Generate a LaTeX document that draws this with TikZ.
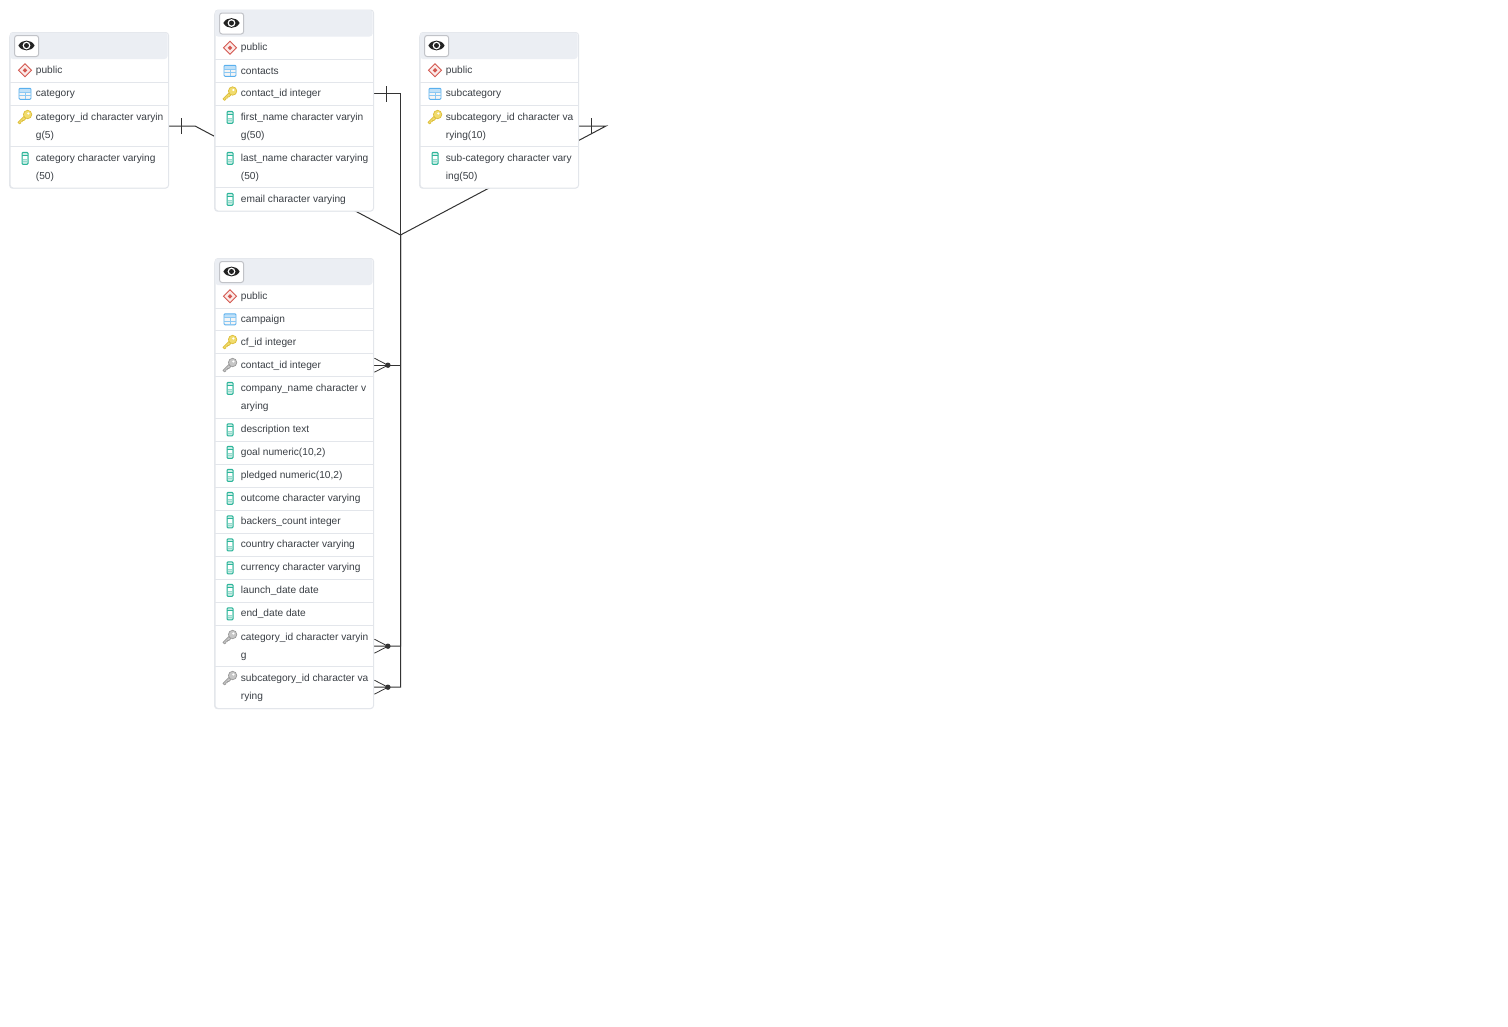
\documentclass[tikz,border=0pt]{standalone}
\usepackage{fontspec}
\setmainfont{Liberation Sans}
\usetikzlibrary{shapes.geometric}
\definecolor{tline}{HTML}{333333}
\definecolor{tborder}{HTML}{E3E6EB}
\definecolor{tshadow}{HTML}{E6E8EC}
\definecolor{thead}{HTML}{EBEEF3}
\definecolor{ttext}{HTML}{3A3F45}
\definecolor{ired}{HTML}{D4574F}
\definecolor{ipale}{HTML}{FBEAE8}
\definecolor{iblue}{HTML}{5AB0EE}
\definecolor{ibluepale}{HTML}{BFE0F8}
\definecolor{igold}{HTML}{F1DC6E}
\definecolor{igoldd}{HTML}{DDBE3A}
\definecolor{igray}{HTML}{C6C6C6}
\definecolor{igrayd}{HTML}{9A9A9A}
\definecolor{iteal}{HTML}{2DB59A}
\definecolor{itealp}{HTML}{C9EDE5}
\definecolor{ieye}{HTML}{222222}
\pgfdeclarelayer{bg}
\pgfsetlayers{bg,main}
\tikzset{
  conn/.style={draw=tline,line width=1pt},
  tablebox/.style={draw=tborder,fill=white,rounded corners=3pt,line width=1pt,inner sep=0pt,anchor=north west},
  rowbox/.style={inner sep=0pt,minimum width=159pt,anchor=north west},
  rowtext/.style={inner sep=0pt,anchor=west,align=left,text=ttext,font=\fontsize{10.15}{18}\selectfont},
  sepline/.style={draw=tborder,line width=1pt},
  eyebtn/.style={draw=tborder!85!black,fill=white,rounded corners=2.5pt,line width=1pt,inner sep=0pt,minimum width=24pt,minimum height=21pt},
  schemaicon/.pic={
    \draw[ired,fill=ipale,line width=.9pt] (-6.5,0)--(0,-6.5)--(6.5,0)--(0,6.5)--cycle;
    \fill[ired] (-2.3,0)--(0,-2.3)--(2.3,0)--(0,2.3)--cycle;},
  tableicon/.pic={
    \fill[white!92!gray,rounded corners=1pt] (-6,-5.5) rectangle (6,5.5);
    \fill[ibluepale] (-6,-5.5) rectangle (6,-1.8);
    \draw[iblue,line width=.9pt,rounded corners=1pt] (-6,-5.5) rectangle (6,5.5);
    \draw[iblue!70!white,line width=.7pt] (-6,-1.8)--(6,-1.8) (-6,1.8)--(6,1.8) (0,-1.8)--(0,5.5);},
  colicon/.pic={
    \draw[iteal,fill=itealp,line width=1pt,rounded corners=1pt] (-3,-6)rectangle(3,6);
    \fill[white] (-2.2,-2.8) rectangle (2.2,1);
    \draw[iteal,line width=.8pt] (-3,-3.2)--(3,-3.2);
    \draw[iteal!50!white,line width=.6pt] (-2.2,1.2)--(2.2,1.2) (-2.2,3.4)--(2.2,3.4);},
  pkicon/.pic={
    \draw[igoldd,fill=igold,line width=.7pt,line join=round] (-7,5)--(-1,-1)--(1,1)--(-1.2,3.2)--(-2.6,3)--(-2.7,4.4)--(-4.1,4.3)--(-4.2,5.7)--(-5.6,6.6)--cycle;
    \draw[igoldd,fill=igold,line width=.7pt] (2.6,-2.8) circle (4.2);
    \fill[white] (3.4,-3.8) circle (1.2);},
  fkicon/.pic={
    \draw[igrayd,fill=igray,line width=.7pt,line join=round] (-7,5)--(-1,-1)--(1,1)--(-1.2,3.2)--(-2.6,3)--(-2.7,4.4)--(-4.1,4.3)--(-4.2,5.7)--(-5.6,6.6)--cycle;
    \draw[igrayd,fill=igray,line width=.7pt] (2.6,-2.8) circle (4.2);
    \fill[white] (3.4,-3.8) circle (1.2);},
}
% table frame: name, x, top, bottom, header bottom
\newcommand{\etable}[5]{%
  \fill[tshadow,rounded corners=3pt] (#2-.8,#3+2) rectangle (#2+158.2,#4+1.2);
  \node[tablebox,minimum width=158.5pt,minimum height={(#4-#3)*1pt}] (#1) at (#2-.4,#3) {};
  \fill[thead,rounded corners=3pt] (#2,#3+.5) rectangle (#2+157.6,#5);
  \node[eyebtn,anchor=north west] (#1-btn) at (#2+4.1,#3+3) {};
  \fill[ieye] (#2+8.4,#3+13.5) .. controls (#2+11.5,#3+7) and (#2+21.5,#3+7) .. (#2+24.6,#3+13.5)
     .. controls (#2+21.5,#3+20) and (#2+11.5,#3+20) .. (#2+8.4,#3+13.5) -- cycle;
  \fill[white] (#2+16.5,#3+13.5) circle (3.9);
  \fill[ieye] (#2+16.5,#3+13.5) circle (2.5);
}
% row: name, table x, top, height, icon, text, separator flag
\newcommand{\erow}[7]{%
  \node[rowbox,minimum height={#4*1pt}] (#2) at (#1-.5,#3) {};
  \if#71\draw[sepline] ([xshift=.5pt]#2.south west)--([xshift=-.5pt]#2.south east);\fi
  \pic at (#1+15,#3+11.8) {#5};
  \ifdim #4pt>30pt
    \node[rowtext] (#2-t) at (#1+25.7,#3+#4/2+.7) {#6};
  \else
    \node[rowtext] (#2-t) at (#1+25.7,#3+12) {#6};
  \fi
}
\begin{document}
\begin{tikzpicture}[x=1pt,y=-1pt]
\useasboundingbox (0,0) rectangle (1508,1026);
% category
\etable{tcat}{10}{32}{187.5}{59}
\erow{10}{cat1}{58.5}{23.5}{schemaicon}{public}{1}
\erow{10}{cat2}{82}{23.5}{tableicon}{\raisebox{-.8pt}{category}}{1}
\erow{10}{catid}{105.5}{41}{pkicon}{category\_id character varyin\\g(5)}{1}
\erow{10}{cat4}{146.5}{41}{colicon}{category character varying\\(50)}{0}
% contacts
\etable{tcon}{215}{9.5}{210.5}{36.5}
\erow{215}{con1}{36}{23.5}{schemaicon}{public}{1}
\erow{215}{con2}{59}{23}{tableicon}{contacts}{1}
\erow{215}{conid}{82}{23.5}{pkicon}{contact\_id integer}{1}
\erow{215}{con4}{105.5}{41}{colicon}{first\_name character varyin\\g(50)}{1}
\erow{215}{con5}{146.5}{41}{colicon}{last\_name character varying\\(50)}{1}
\erow{215}{con6}{187.5}{23}{colicon}{email character varying}{0}
% subcategory
\etable{tsub}{420}{32}{187.5}{59}
\erow{420}{sub1}{58.5}{23.5}{schemaicon}{public}{1}
\erow{420}{sub2}{82}{23.5}{tableicon}{\raisebox{-.8pt}{subcategory}}{1}
\erow{420}{subid}{105.5}{41}{pkicon}{subcategory\_id character va\\rying(10)}{1}
\erow{420}{sub4}{146.5}{41}{colicon}{sub-category character vary\\ing(50)}{0}
% campaign
\etable{tcam}{215}{258}{708}{285}
\erow{215}{cam1}{284.5}{23.5}{schemaicon}{public}{1}
\erow{215}{cam2}{307.5}{23}{tableicon}{campaign}{1}
\erow{215}{cam3}{330.5}{23}{pkicon}{cf\_id integer}{1}
\erow{215}{camcon}{353.5}{23}{fkicon}{contact\_id integer}{1}
\erow{215}{cam5}{376.5}{41.5}{colicon}{company\_name character v\\arying}{1}
\erow{215}{cam6}{418}{23}{colicon}{\raisebox{-.8pt}{description text}}{1}
\erow{215}{cam7}{440.5}{23.5}{colicon}{goal numeric(10,2)}{1}
\erow{215}{cam8}{463.5}{23.5}{colicon}{pledged numeric(10,2)}{1}
\erow{215}{cam9}{486.5}{23.5}{colicon}{outcome character varying}{1}
\erow{215}{cam10}{510}{23}{colicon}{\raisebox{-.8pt}{backers\_count integer}}{1}
\erow{215}{cam11}{533}{23}{colicon}{\raisebox{-.8pt}{country character varying}}{1}
\erow{215}{cam12}{556}{23}{colicon}{\raisebox{-.8pt}{currency character varying}}{1}
\erow{215}{cam13}{578.5}{23.5}{colicon}{launch\_date date}{1}
\erow{215}{cam14}{602}{23.5}{colicon}{\raisebox{-.8pt}{end\_date date}}{1}
\erow{215}{camcat}{625.5}{41}{fkicon}{category\_id character varyin\\g}{1}
\erow{215}{camsub}{666.5}{41}{fkicon}{subcategory\_id character va\\rying}{0}
% junction points of the connectors
\coordinate (hub) at (400.5,235);
\coordinate (catbend) at (195,126);
\coordinate (subbend) at (606,126);
\begin{pgfonlayer}{bg}
  \draw[conn] (catid.east) -- (catbend) -- (hub) -- (hub|-camcat.east) -- (camcat.east);
  \draw[conn] (subid.east) -- (subbend) -- (hub) -- (hub|-camsub.east) -- (camsub.east);
  \draw[conn] (conid.east) -- (hub|-conid.east) -- (hub|-camcon.east) -- (camcon.east);
\end{pgfonlayer}
% one-side ticks
\draw[conn] ([xshift=13pt,yshift=-8pt]catid.east) -- ([xshift=13pt,yshift=8pt]catid.east);
\draw[conn] ([xshift=13pt,yshift=-8pt]conid.east) -- ([xshift=13pt,yshift=8pt]conid.east);
\draw[conn] ([xshift=13pt,yshift=-8pt]subid.east) -- ([xshift=13pt,yshift=8pt]subid.east);
% crow's feet
\foreach \r in {camcon,camcat,camsub}{
  \draw[conn,line width=.8pt] ([xshift=.5pt,yshift=-7pt]\r.east) -- ([xshift=14pt]\r.east) -- ([xshift=.5pt,yshift=7pt]\r.east);
  \fill[tline] ([xshift=14pt]\r.east) circle (2.7);
}
\end{tikzpicture}
\end{document}
